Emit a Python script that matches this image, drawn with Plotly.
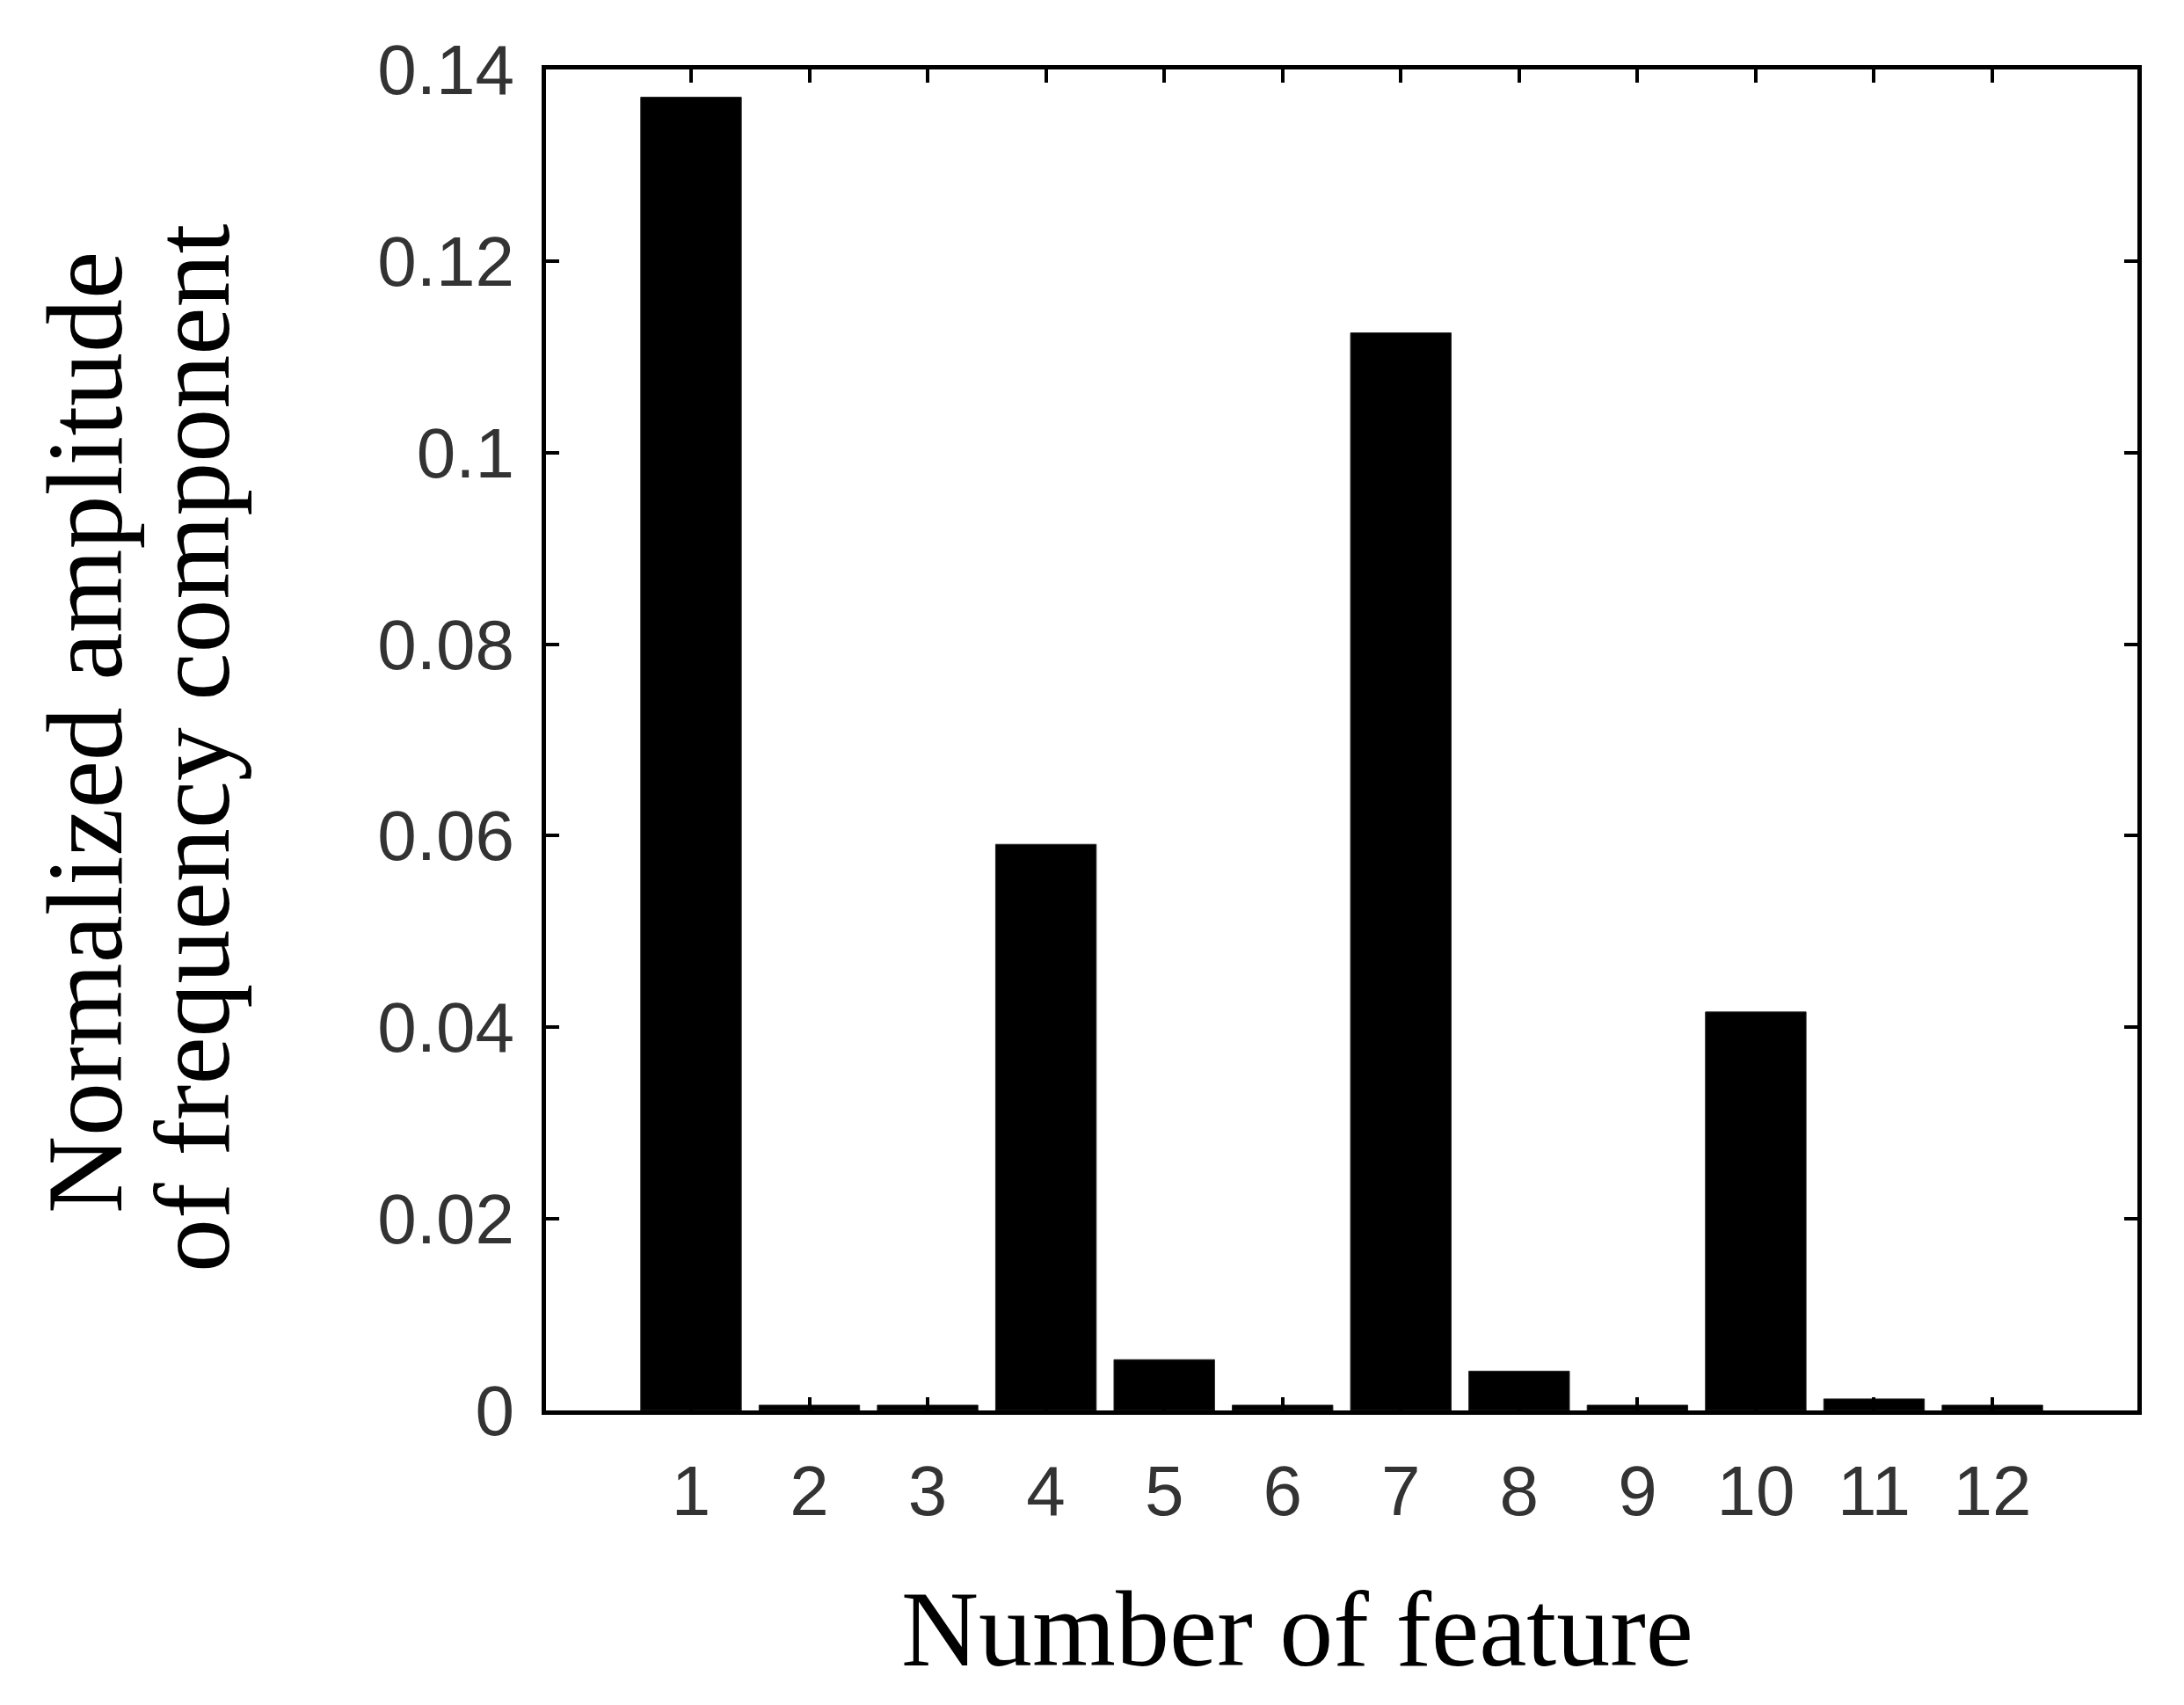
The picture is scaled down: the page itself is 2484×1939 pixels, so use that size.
import plotly.graph_objects as go

features = [1, 2, 3, 4, 5, 6, 7, 8, 9, 10, 11, 12]
amplitude = [0.1371, 0.00055, 0.00055, 0.0591, 0.0053, 0.00055,
             0.1125, 0.0041, 0.00055, 0.0416, 0.0012, 0.00055]
y_ticks = [0, 0.02, 0.04, 0.06, 0.08, 0.1, 0.12, 0.14]
y_tick_text = ["0", "0.02", "0.04", "0.06", "0.08", "0.1", "0.12", "0.14"]
x_title = "Number of feature"
y_title_lines = ["Normalized amplitude", "of frequency component"]

OFF = 8  # page body margin
W, H = 2484 - OFF, 1939 - OFF
L, R, T, B = 613, 53, 71, 335

tick_font = dict(family="Liberation Sans Narrow, Liberation Sans, Arial", size=80, color="#333333")
title_font = dict(family="Liberation Serif, Times New Roman, serif", size=122, color="black")

fig = go.Figure(go.Bar(
    x=features, y=amplitude, width=0.85,
    marker=dict(color="black", line=dict(color="#222222", width=1)),
))

fig.update_xaxes(
    range=[-0.226, 13.226], tickmode="array", tickvals=features,
    ticktext=[str(f) for f in features],
    showline=True, linecolor="black", linewidth=5, mirror="ticks",
    ticks="inside", ticklen=15, tickwidth=4, tickcolor="black",
    showgrid=False, zeroline=False, tickfont=tick_font, ticklabelstandoff=18,
)
fig.update_yaxes(
    range=[0, 0.14], tickmode="array", tickvals=y_ticks, ticktext=y_tick_text,
    showline=True, linecolor="black", linewidth=5, mirror="ticks",
    ticks="inside", ticklen=15, tickwidth=4, tickcolor="black",
    showgrid=False, zeroline=False, tickfont=tick_font, ticklabelstandoff=15,
)

plot_w = W - L - R
plot_h = H - T - B

def px_x(p):
    return (p - OFF - L) / plot_w

def px_y(p):
    return (H - B - (p - OFF)) / plot_h

annotations = [
    dict(text=x_title, xref="paper", yref="paper", x=px_x(1475), y=px_y(1852),
         xanchor="center", yanchor="middle", showarrow=False, font=title_font),
    dict(text=y_title_lines[0], xref="paper", yref="paper", x=px_x(96), y=px_y(833),
         xanchor="center", yanchor="middle", showarrow=False, font=title_font, textangle=-90),
    dict(text=y_title_lines[1], xref="paper", yref="paper", x=px_x(218), y=px_y(851),
         xanchor="center", yanchor="middle", showarrow=False, font=title_font, textangle=-90),
]

fig.update_layout(
    width=W, height=H, autosize=False,
    margin=dict(l=L, r=R, t=T, b=B, pad=0),
    paper_bgcolor="white", plot_bgcolor="white",
    showlegend=False, annotations=annotations,
)

fig.write_html("out.html")
